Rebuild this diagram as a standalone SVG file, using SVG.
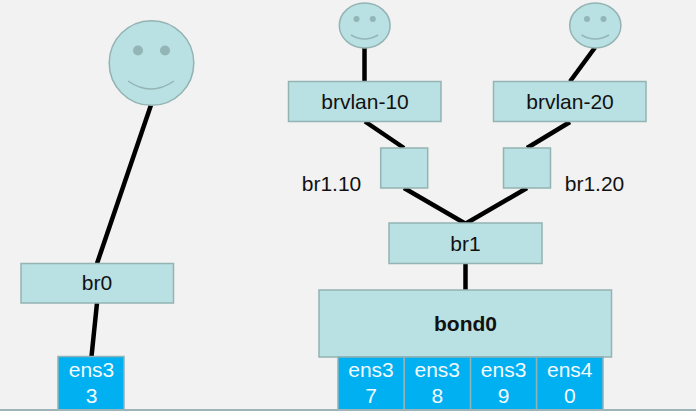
<svg xmlns="http://www.w3.org/2000/svg" width="696" height="411" viewBox="0 0 696 411">
<style>
.box{fill:#b9e0e3;stroke:#94b3b3;stroke-width:1.5}
.nic{fill:#00b0f0;stroke:#8fb3b8;stroke-width:1.5}
.eye{fill:#93b5b6}
.smile{fill:none;stroke:#93b5b6;stroke-width:1.5}
.lines line{stroke:#000;stroke-width:4.500}
text{font-family:"Liberation Sans",Arial,sans-serif;font-size:21px;fill:#111;text-anchor:middle}
.w{fill:#f4fbff}
</style>
<rect width="696" height="411" fill="#f2f2f2"/>
<g id="connectors" class="lines">
<line x1="151" y1="105" x2="97" y2="263.5"/>
<line x1="97" y1="303" x2="91.500" y2="356.500"/>
<line x1="364.500" y1="47.500" x2="364.500" y2="81.500"/>
<line x1="365" y1="121.500" x2="404" y2="148"/>
<line x1="595" y1="47.500" x2="570" y2="81.500"/>
<line x1="570" y1="122" x2="527" y2="148"/>
<line x1="404" y1="188" x2="466" y2="224"/>
<line x1="527" y1="188" x2="465" y2="224"/>
<line x1="465.500" y1="263.500" x2="465.500" y2="290"/>
</g>
<g id="face-br0">
<circle class="box" cx="151.500" cy="63" r="42.300"/>
<circle class="eye" cx="138" cy="50.500" r="5"/>
<circle class="eye" cx="165" cy="50.500" r="5"/>
<path class="smile" d="M128 81Q151 97 174 81"/>
</g>
<g id="face-brvlan-10">
<ellipse class="box" cx="364.700" cy="25.500" rx="25.400" ry="22.500"/>
<circle class="eye" cx="356.500" cy="19" r="3"/>
<circle class="eye" cx="372.800" cy="19" r="3"/>
<path class="smile" d="M351 35Q364.500 43 378 35"/>
</g>
<g id="face-brvlan-20">
<ellipse class="box" cx="595.300" cy="25.500" rx="25.600" ry="22.500"/>
<circle class="eye" cx="587" cy="19" r="3"/>
<circle class="eye" cx="603.500" cy="19" r="3"/>
<path class="smile" d="M581.500 35Q595 43 609 35"/>
</g>
<g id="br0"><rect class="box" x="21" y="263.500" width="152.500" height="39.500"/><text x="97" y="290">br0</text></g>
<g id="brvlan-10"><rect class="box" x="288.500" y="81.500" width="152.500" height="40"/><text x="365" y="108.500">brvlan-10</text></g>
<g id="brvlan-20"><rect class="box" x="493.500" y="81.500" width="152.500" height="40"/><text x="570" y="108.500">brvlan-20</text></g>
<g id="br1.10"><rect class="box" x="380.700" y="148" width="47" height="40"/><text x="331.500" y="190.500">br1.10</text></g>
<g id="br1.20"><rect class="box" x="503.500" y="148" width="47" height="40"/><text x="594.500" y="190.500">br1.20</text></g>
<g id="br1"><rect class="box" x="389" y="223" width="153" height="40.500"/><text x="465.500" y="250.500">br1</text></g>
<g id="bond0"><rect class="box" x="319" y="290" width="292.500" height="67"/><text x="465.500" y="330.500" style="font-weight:bold">bond0</text></g>
<g id="ens33"><rect class="nic" x="58" y="356.500" width="66" height="54"/><text class="w" x="91.500" y="377">ens3</text><text class="w" x="91.500" y="402.700">3</text></g>
<g id="ens37"><rect class="nic" x="338" y="357" width="66.300" height="53.500"/><text class="w" x="371" y="377">ens3</text><text class="w" x="371" y="402.700">7</text></g>
<g id="ens38"><rect class="nic" x="404.300" y="357" width="66.300" height="53.500"/><text class="w" x="437.300" y="377">ens3</text><text class="w" x="437.300" y="402.700">8</text></g>
<g id="ens39"><rect class="nic" x="470.600" y="357" width="66" height="53.500"/><text class="w" x="503.600" y="377">ens3</text><text class="w" x="503.600" y="402.700">9</text></g>
<g id="ens40"><rect class="nic" x="536.600" y="357" width="66.400" height="53.500"/><text class="w" x="569.800" y="377">ens4</text><text class="w" x="569.800" y="402.700">0</text></g>
<rect x="0" y="409" width="696" height="2" fill="#9db5b8"/>
</svg>
